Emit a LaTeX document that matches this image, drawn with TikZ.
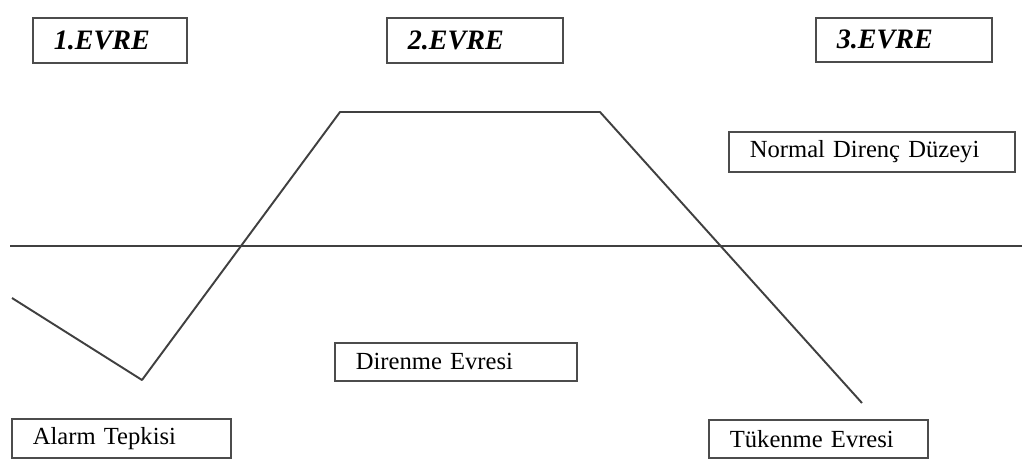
\documentclass[tikz,border=0pt]{standalone}
\usepackage{fontspec}
\setmainfont{Liberation Serif}
\usetikzlibrary{positioning}

\tikzset{
  curve/.style={draw=black!75, line width=1.1pt},
  lbox/.style={draw=black!70, line width=1pt, anchor=north west, align=left,
    inner xsep=0.42cm, inner ysep=0pt, font=\fontsize{14}{16}\selectfont},
  evre/.style={lbox, font=\fontsize{16}{18}\selectfont\bfseries\itshape}
}

\begin{document}
\begin{tikzpicture}[x=0.02cm,y=-0.02cm]
    \useasboundingbox (0,0) rectangle (1022,464);
    % phase titles
    \node [evre, text width=2.24cm, minimum height=0.9cm] (e1) at (32,17) {1.EVRE};
    \node [evre, text width=2.68cm, minimum height=0.9cm] (e2) at (386,17) {2.EVRE};
    \node [evre, text width=2.68cm, minimum height=0.88cm] (e3) at (815,17) {3.EVRE};
    % labels
    \node [lbox, text width=4.88cm, minimum height=0.8cm] (normal) at (728,131) {Normal Direnç Düzeyi};
    \node [lbox, text width=3.54cm, minimum height=0.78cm] (alarm) at (11,418) {Alarm Tepkisi};
    \node [lbox, text width=4.0cm, minimum height=0.76cm] (direnme) at (334,342) {Direnme Evresi};
    \node [lbox, text width=3.54cm, minimum height=0.76cm] (tukenme) at (708,419) {Tükenme Evresi};
    % normal level
    \coordinate (n0) at (10,246);
    \coordinate (n1) at (1022,246);
    \draw [curve] (n0) -- (n1);
    % resistance curve
    \coordinate (p0) at (12,298);
    \coordinate (p1) at (142,380);
    \coordinate (p2) at (340,112);
    \coordinate (p3) at (600,112);
    \coordinate (p4) at (862,403);
    \draw [curve, line join=round] (p0) -- (p1) -- (p2) -- (p3) -- (p4);
\end{tikzpicture}
\end{document}
